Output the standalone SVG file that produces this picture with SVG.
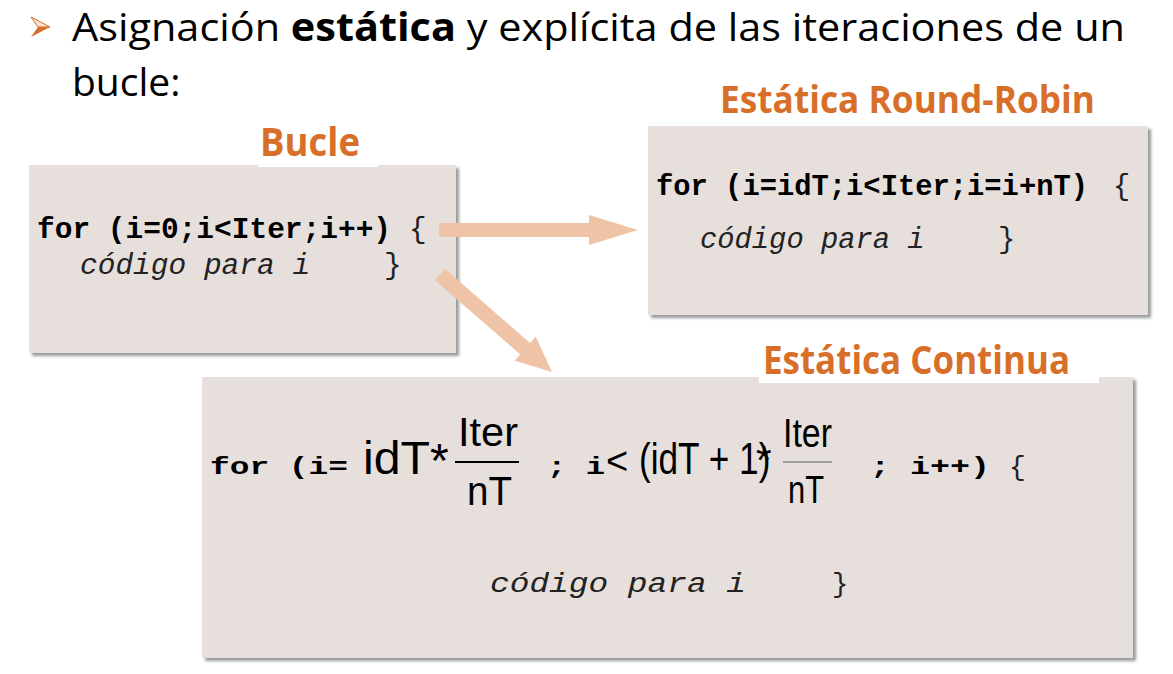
<svg xmlns="http://www.w3.org/2000/svg" width="1173" height="674" viewBox="0 0 1173 674">
<style>
.box{fill:#E6DFDC;filter:url(#sh)}
.title{font-family:"Open Sans","Noto Sans",sans-serif;font-weight:700;fill:#D86F29}
.code{font-family:"Liberation Mono","Courier New",monospace;font-weight:700;fill:#000}
.brace{font-family:"Liberation Mono","Courier New",monospace;font-weight:400;fill:#222}
.it{font-family:"Liberation Mono","Courier New",monospace;font-style:italic;font-weight:400;fill:#222}
.eq{font-family:"Liberation Sans",Arial,sans-serif;fill:#000}
.hdr{font-family:"Open Sans","Noto Sans",sans-serif;font-size:39px;fill:#000}
.arrow{fill:#EFC4A6}
</style>
<defs>
<filter id="sh" x="-5%" y="-5%" width="112%" height="115%">
<feDropShadow dx="3" dy="3" stdDeviation="1.5" flood-color="#000" flood-opacity="0.4"/>
</filter>
</defs>
<rect width="1173" height="674" fill="#fff"/>

<g id="header">
<polygon points="31,17 50,27 38,27" fill="#FBE3D2" stroke="#D86F29" stroke-width="1"/>
<polygon points="38,27 50,27 31,37" fill="#D86F29"/>
<text class="hdr" x="72" y="41" textLength="1053" lengthAdjust="spacingAndGlyphs">Asignación <tspan font-weight="700">estática</tspan> y explícita de las iteraciones de un</text>
<text class="hdr" x="72" y="96">bucle:</text>
</g>

<g id="node-bucle">
<rect class="box" x="29" y="165" width="427" height="188"/>
<rect x="258" y="118" width="120" height="49" fill="#fff"/>
<text class="title" x="260" y="156" font-size="40" textLength="100" lengthAdjust="spacingAndGlyphs">Bucle</text>
<text class="code" x="37" y="238" font-size="29.5">for (i=0;i&lt;Iter;i++)</text>
<text class="brace" x="409" y="238" font-size="29.5">{</text>
<text class="it" x="80" y="274" font-size="29.5">código para i</text>
<text class="brace" x="384" y="274" font-size="29.5">}</text>
</g>

<g id="node-roundrobin">
<rect class="box" x="648" y="126" width="500" height="189"/>
<text class="title" x="720" y="113" font-size="38" textLength="375" lengthAdjust="spacingAndGlyphs">Estática Round-Robin</text>
<text class="code" x="656" y="195" font-size="28.8">for (i=idT;i&lt;Iter;i=i+nT)</text>
<text class="brace" x="1113" y="195" font-size="28.8">{</text>
<text class="it" x="700" y="248" font-size="28.8">código para i</text>
<text class="brace" x="998" y="248" font-size="28.8">}</text>
</g>

<g id="node-continua">
<rect class="box" x="202" y="377" width="931" height="281"/>
<rect x="759" y="336" width="340" height="47" fill="#fff"/>
<text class="title" x="763" y="374" font-size="40" textLength="307" lengthAdjust="spacingAndGlyphs">Estática Continua</text>
<text class="code" x="210" y="474" font-size="24" textLength="138" lengthAdjust="spacingAndGlyphs">for (i=</text>
<text class="eq" x="363" y="474" font-size="46" textLength="67" lengthAdjust="spacingAndGlyphs">idT</text>
<text class="eq" x="430" y="477" font-size="48">*</text>
<text class="eq" x="458" y="446" font-size="40" textLength="60" lengthAdjust="spacingAndGlyphs">Iter</text>
<line x1="455" y1="462" x2="519" y2="462" stroke="#000" stroke-width="2"/>
<text class="eq" x="467" y="505" font-size="40" textLength="45" lengthAdjust="spacingAndGlyphs">nT</text>
<text class="code" x="547" y="474" font-size="24" textLength="58" lengthAdjust="spacingAndGlyphs">; i</text>
<text class="eq" x="606" y="474" font-size="38">&lt;</text>
<text class="eq" font-size="44" transform="translate(639,474) scale(0.8,1)">(idT + 1)</text>
<text class="eq" x="756" y="474" font-size="40">*</text>
<text class="eq" x="783" y="447" font-size="40" textLength="49" lengthAdjust="spacingAndGlyphs">Iter</text>
<line x1="783" y1="462" x2="832" y2="462" stroke="#888" stroke-width="1.5"/>
<text class="eq" x="788" y="503" font-size="38" textLength="36" lengthAdjust="spacingAndGlyphs">nT</text>
<text class="code" x="870" y="474" font-size="24" textLength="120" lengthAdjust="spacingAndGlyphs">; i++)</text>
<text class="brace" x="1009" y="475" font-size="28">{</text>
<text class="it" x="490" y="592" font-size="27" textLength="256" lengthAdjust="spacingAndGlyphs">código para i</text>
<text class="brace" x="832" y="592" font-size="27">}</text>
</g>

<g id="connectors">
<polygon class="arrow" points="439,223 589,223 589,215 638,230 589,245 589,237 439,237"/>
<polygon class="arrow" points="444.9,268.8 530.1,343.0 535.7,336.6 552,372 514.7,360.8 520.3,354.4 435.1,280.2"/>
</g>
</svg>
